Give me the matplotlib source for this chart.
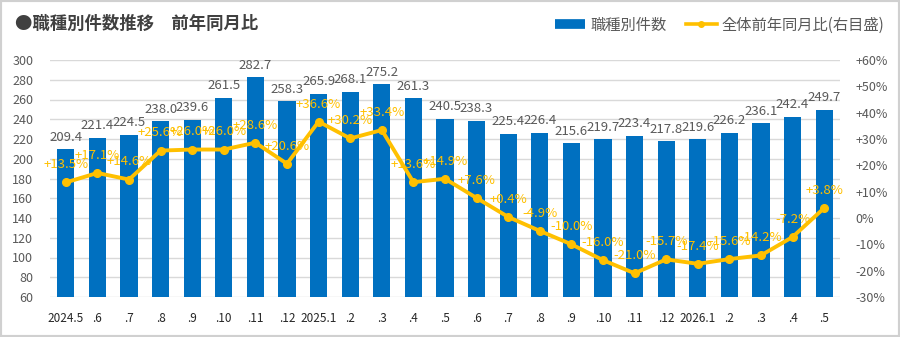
import numpy as np
import matplotlib.pyplot as plt
from matplotlib.lines import Line2D
from matplotlib.patches import Rectangle

plt.rcParams['font.family'] = ['Noto Sans CJK JP', 'DejaVu Sans']

# データ
months = ['2024.5', '.6', '.7', '.8', '.9', '.10', '.11', '.12',
          '2025.1', '.2', '.3', '.4', '.5', '.6', '.7', '.8', '.9', '.10', '.11', '.12',
          '2026.1', '.2', '.3', '.4', '.5']
counts = [209.4, 221.4, 224.5, 238.0, 239.6, 261.5, 282.7, 258.3,
          265.9, 268.1, 275.2, 261.3, 240.5, 238.3, 225.4, 226.4, 215.6, 219.7, 223.4, 217.8,
          219.6, 226.2, 236.1, 242.4, 249.7]
yoy = [13.5, 17.1, 14.6, 25.6, 26.0, 26.0, 28.6, 20.6,
       36.6, 30.2, 33.4, 13.6, 14.9, 7.6, 0.4, -4.9, -10.0, -16.0, -21.0, -15.7,
       -17.4, -15.6, -14.2, -7.2, 3.8]

blue = '#0070C0'
gold = '#FFC000'
gray_txt = '#595959'
grid_c = '#D9D9D9'

fig = plt.figure(figsize=(9, 3.37), dpi=100)
ax = fig.add_axes([50/900, 1-297/337, 790/900, 237/337])
ax2 = ax.twinx()

x = np.arange(len(months))
ax.bar(x, counts, width=0.54, color=blue, zorder=2)
ax.set_xlim(-0.5, len(months)-0.5)
ax.set_ylim(60, 300)
ax.set_yticks(np.arange(60, 301, 20))
ax.grid(axis='y', color=grid_c, lw=1, zorder=0)
ax.set_axisbelow(True)
ax.set_xticks(x)
ax.set_xticklabels(months)
ax.tick_params(length=0, labelsize=9, labelcolor=gray_txt)
ax.tick_params(axis='y', pad=12)
ax.tick_params(axis='x', pad=11, labelsize=8.5, labelcolor='#262626')
for s in ax.spines.values():
    s.set_visible(False)

for xi, v in zip(x, counts):
    ax.annotate(f'{v:.1f}', (xi, v), xytext=(0, 4), textcoords='offset points',
                ha='center', va='bottom', fontsize=9.5, color=gray_txt)

ax2.plot(x, yoy, color=gold, lw=2.8, marker='o', ms=5.5, zorder=3)
ax2.set_ylim(-30, 60)
ax2.set_yticks(np.arange(-30, 61, 10))
ax2.set_yticklabels([f'{t:+d}%' if t > 0 else f'{t}%' for t in range(-30, 61, 10)])
ax2.tick_params(length=0, labelsize=9, labelcolor=gray_txt, pad=11)
for s in ax2.spines.values():
    s.set_visible(False)

for xi, v in zip(x, yoy):
    lab = f'{v:+.1f}%'
    ax2.annotate(lab, (xi, v), xytext=(0, 8), textcoords='offset points',
                 ha='center', va='bottom', fontsize=9.5, color=gold)

fig.text(15/900, 1-24/337, '●職種別件数推移　前年同月比', fontsize=12.5, fontweight='bold',
         color='#404040', ha='left', va='center')

handles = [Line2D([0], [0], color=blue, lw=7, solid_capstyle='butt'),
           Line2D([0], [0], color=gold, lw=2.6, marker='o', ms=4)]
fig.legend(handles, ['職種別件数', '全体前年同月比(右目盛)'], loc='center right',
           bbox_to_anchor=(884/900, 1-25/337), ncol=2, frameon=False, fontsize=11,
           handlelength=2.0, columnspacing=1.3, handletextpad=0.3, labelcolor=gray_txt,
           borderpad=0, borderaxespad=0)

fig.patches.append(Rectangle((0, 0), 1, 1, transform=fig.transFigure, fill=False,
                             edgecolor='#D0D0D0', lw=3))

fig.savefig('out.png', dpi=100)
